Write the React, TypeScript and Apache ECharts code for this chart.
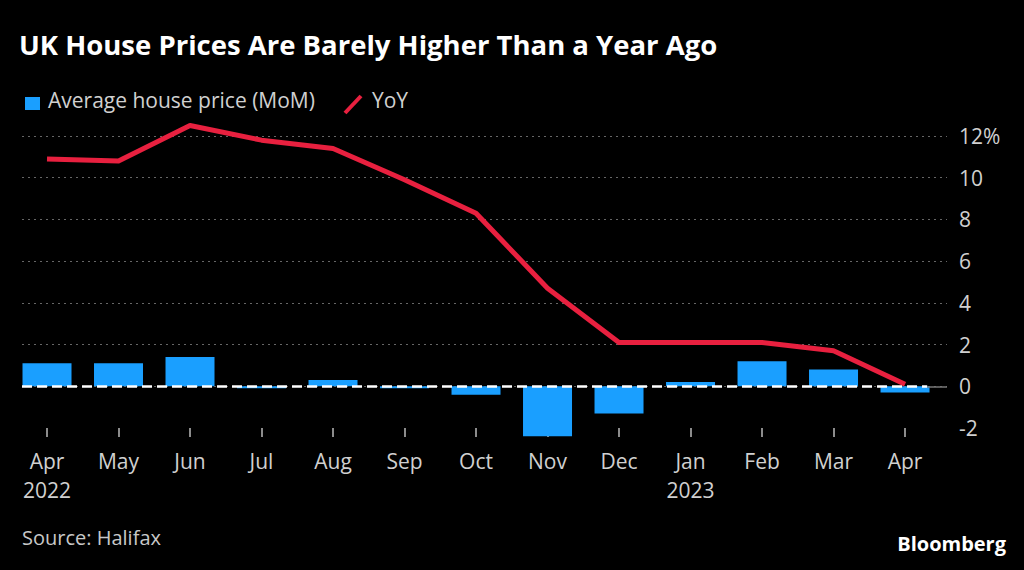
import React, { useEffect, useRef } from "react";
import * as echarts from "echarts";

const months = ["Apr", "May", "Jun", "Jul", "Aug", "Sep", "Oct", "Nov", "Dec", "Jan", "Feb", "Mar", "Apr"];
const years = ["2022", "", "", "", "", "", "", "", "", "2023", "", "", ""];
const momValues = [1.1, 1.1, 1.4, -0.1, 0.3, -0.1, -0.4, -2.4, -1.3, 0.2, 1.2, 0.8, -0.3];
const yoyValues = [10.9, 10.8, 12.5, 11.8, 11.4, 9.9, 8.3, 4.7, 2.1, 2.1, 2.1, 1.7, 0.1];

const BLUE = "#1a9fff";
const RED = "#e8203f";
const FONT = "'Open Sans', 'Noto Sans', sans-serif";

export default function App() {
  const ref = useRef<HTMLDivElement>(null);
  useEffect(() => {
    document.body.style.margin = "0";
    document.body.style.background = "#000";
    const chart = echarts.init(ref.current!, undefined, { renderer: "svg" });
    const idx = months.map((_, i) => i);
    chart.setOption({
      animation: false,
      backgroundColor: "#000",
      textStyle: { fontFamily: FONT },
      grid: { left: 22, right: 1024 - 947, top: 136, bottom: 570 - 428, containLabel: false },
      xAxis: {
        type: "value",
        min: -0.3497,
        max: 12.587,
        axisLine: { show: false, onZero: false },
        splitLine: { show: false },
        axisTick: {
          show: true,
          customValues: idx,
          length: 9,
          lineStyle: { color: "#bbb", width: 1.5 },
        },
        axisLabel: {
          show: true,
          customValues: idx,
          margin: 18,
          color: "#d0d0d0",
          fontSize: 21,
          lineHeight: 29,
          fontFamily: FONT,
          formatter: (v: number) => {
            const i = Math.round(v);
            return years[i] ? months[i] + "\n" + years[i] : months[i];
          },
        },
      },
      yAxis: {
        type: "value",
        position: "right",
        min: -2,
        max: 12,
        interval: 2,
        axisLine: { show: false },
        axisTick: { show: false },
        axisLabel: {
          margin: 12,
          color: "#d0d0d0",
          fontSize: 21,
          fontFamily: FONT,
          formatter: (v: number) => (v === 12 ? "12%" : String(v)),
        },
        splitLine: {
          show: true,
          showMinLine: false,
          lineStyle: { color: "#666", width: 1, type: [2, 4] },
        },
      },
      graphic: [
        {
          type: "text",
          left: 19,
          top: 30,
          style: { text: "UK House Prices Are Barely Higher Than a Year Ago", fill: "#fff", font: `bold 27.5px ${FONT}` },
        },
        { type: "rect", shape: { x: 25, y: 97, width: 15, height: 13 }, style: { fill: BLUE } },
        {
          type: "text",
          left: 48,
          top: 89,
          style: { text: "Average house price (MoM)", fill: "#d0d0d0", font: `21px ${FONT}` },
        },
        {
          type: "line",
          shape: { x1: 345, y1: 113, x2: 361, y2: 96 },
          style: { stroke: RED, lineWidth: 4 },
        },
        {
          type: "text",
          left: 372,
          top: 89,
          style: { text: "YoY", fill: "#d0d0d0", font: `21px ${FONT}` },
        },
        {
          type: "text",
          left: 22,
          top: 527,
          style: { text: "Source: Halifax", fill: "#c8c8c8", font: `20px ${FONT}` },
        },
        {
          type: "text",
          right: 18,
          top: 533,
          style: { text: "Bloomberg", fill: "#fff", font: `bold 20px ${FONT}` },
        },
      ],
      series: [
        {
          type: "bar",
          name: "Average house price (MoM)",
          data: momValues.map((v, i) => [i, v]),
          barWidth: 49,
          clip: false,
          itemStyle: { color: BLUE },
          markLine: {
            silent: true,
            symbol: "none",
            z: 10,
            label: { show: false },
            data: [
              [
                { coord: [-0.3497, 0], lineStyle: { color: "#fff", width: 2.5, type: [10, 5] } },
                { coord: [12.31, 0] },
              ],
              [
                { coord: [12.31, 0], lineStyle: { color: "#777", width: 1.5, type: "solid" } },
                { coord: [12.587, 0] },
              ],
            ],
          },
        },
        {
          type: "line",
          name: "YoY",
          data: yoyValues.map((v, i) => [i, v]),
          symbol: "none",
          clip: false,
          z: 5,
          lineStyle: { color: RED, width: 5, join: "round" },
          itemStyle: { color: RED },
        },
      ],
    });
    return () => chart.dispose();
  }, []);
  return <div ref={ref} style={{ width: 1024, height: 570, position: "fixed", left: 0, top: 0 }} />;
}
